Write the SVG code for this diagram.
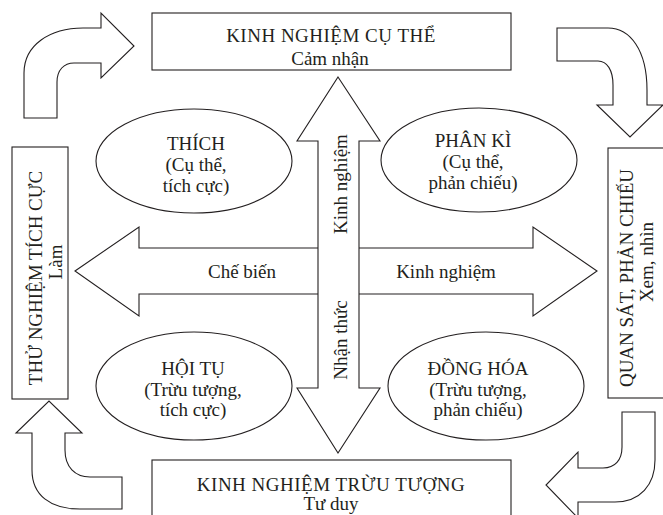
<svg xmlns="http://www.w3.org/2000/svg" width="663" height="515" viewBox="0 0 663 515">
<style>
.s{fill:#fff;stroke:#231f20;stroke-width:1.1;stroke-linejoin:miter}
text{font-family:"Liberation Serif","Times New Roman",serif;font-size:19px;fill:#231f20;text-anchor:middle}
.t{letter-spacing:0.5px}
</style>
<rect width="663" height="515" fill="#fff"/>
<g id="connectors">
<path class="s" d="M24,118 L24,73 C24,45 50,28 83,28 L101,28 L101,13 L134,46 L101,78 L101,63 L74,63 C64,63 57,70 57,82 L57,118 Z"/>
<path class="s" d="M557,28 L608,28 C630,28 647,50 647,90 L647,105 L663,105 L630,137 L597,105 L613,105 L613,85 C613,70 607,61 598,61 L557,61 Z"/>
<path class="s" d="M622,412 L655,412 L655,460 C655,485 640,502 615,502 L578,502 L578,518 L546,485 L578,452 L578,468 L603,468 C615,468 622,460 622,447 Z"/>
<path class="s" d="M122,477 L90,477 C75,477 65,467 65,450 L65,433 L82,433 L49,401 L16,433 L32,433 L32,470 C32,495 50,509 80,509 L122,509 Z"/>
<path class="s" d="M75,271 L139,227 L139,248 L533,248 L533,227 L597,271 L533,316 L533,294 L139,294 L139,316 Z"/>
<path class="s" d="M338,77 L380,141 L359,141 L359,388 L380,388 L338,453 L297,388 L318,388 L318,141 L297,141 Z"/>
<text x="242" y="278">Chế biến</text>
<text x="446" y="278">Kinh nghiệm</text>
<text transform="translate(347,184) rotate(-90)">Kinh nghiệm</text>
<text transform="translate(347,340) rotate(-90)">Nhận thức</text>
</g>
<g id="top">
<rect class="s" x="152" y="13" width="359" height="57"/>
<text class="t" x="331" y="42">KINH NGHIỆM CỤ THỂ</text>
<text x="330" y="65">Cảm nhận</text>
</g>
<g id="bottom">
<rect class="s" x="152" y="460" width="359" height="70"/>
<text class="t" x="331" y="491">KINH NGHIỆM TRỪU TƯỢNG</text>
<text x="331" y="510">Tư duy</text>
</g>
<g id="left">
<rect class="s" x="12" y="147" width="56" height="252"/>
<text transform="translate(42,278) rotate(-90)">THỬ NGHIỆM TÍCH CỰC</text>
<text transform="translate(62,262) rotate(-90)">Làm</text>
</g>
<g id="right">
<rect class="s" x="608" y="148" width="60" height="250"/>
<text transform="translate(633,278) rotate(-90)">QUAN SÁT, PHẢN CHIẾU</text>
<text transform="translate(653,262) rotate(-90)">Xem, nhìn</text>
</g>
<g id="thich">
<ellipse class="s" cx="194" cy="161" rx="98" ry="52"/>
<text x="196" y="150">THÍCH</text>
<text x="196" y="171">(Cụ thể,</text>
<text x="196" y="192">tích cực)</text>
</g>
<g id="phanki">
<ellipse class="s" cx="479" cy="160" rx="98" ry="52"/>
<text x="473" y="147">PHÂN KÌ</text>
<text x="473" y="168">(Cụ thể,</text>
<text x="473" y="189">phản chiếu)</text>
</g>
<g id="hoitu">
<ellipse class="s" cx="194" cy="386" rx="98" ry="54"/>
<text x="193" y="375">HỘI TỤ</text>
<text x="193" y="396">(Trừu tượng,</text>
<text x="193" y="416">tích cực)</text>
</g>
<g id="donghoa">
<ellipse class="s" cx="486" cy="386" rx="98" ry="54"/>
<text x="478" y="375">ĐỒNG HÓA</text>
<text x="478" y="396">(Trừu tượng,</text>
<text x="478" y="416">phản chiếu)</text>
</g>
</svg>
